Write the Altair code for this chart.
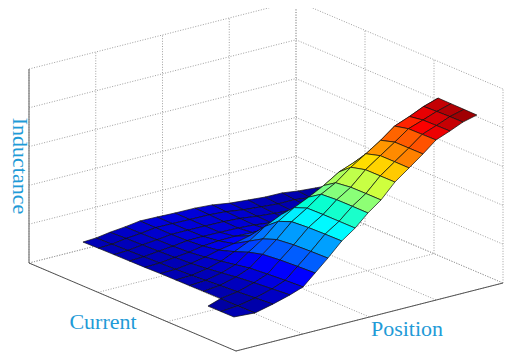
import altair as alt

N = None
current = [.066, .138, .21, .282, .354, .426, .498, .562, .626, .706, .786, .866]
position_low = [.231, .151, .20, .252, .308, .364, .428, .495, .57, .634, .701, .769, .833, .896, .956, 1.02, 1.083, 1.143]
position_high = [.096, .175, .242, .306, .355, .40, .448, .50, .55, .598, .647, .699, .752, .804, .853, .905, .954, 1.006]
inductance = [
    [N, N, N, N, N, N, N, N, N, .055, .068, .081],
    [.085, .085, .084, .083, .082, .082, .081, .080, .079, .077, .075, .074],
    [.089, .088, .087, .086, .085, .084, .084, .086, .088, .090, .093, .096],
    [.100, .099, .097, .095, .094, .094, .098, .104, .110, .115, .118, .121],
    [.108, .106, .104, .102, .102, .108, .118, .128, .138, .142, .144, .145],
    [.119, .116, .113, .112, .116, .126, .150, .175, .192, .198, .200, .201],
    [.117, .115, .113, .113, .122, .140, .185, .225, .250, .258, .260, .261],
    [.114, .113, .112, .112, .124, .160, .240, .295, .322, .328, .330, .331],
    [.113, .112, .110, .110, .120, .175, .280, .345, .372, .376, .378, .380],
    [.107, .106, .105, .105, .115, .180, .300, .380, .425, .434, .438, .441],
    [.093, .093, .094, .095, .105, .180, .320, .420, .465, .480, .486, .491],
    [.085, .085, .086, .088, .100, .180, .330, .470, .525, .551, .558, .565],
    [.078, .078, .080, .083, .100, .190, .340, .500, .575, .604, .612, .619],
    [.077, .078, .079, .080, .105, .200, .350, .530, .625, .655, .664, .673],
    [.066, .068, .071, .075, .110, .220, .370, .560, .680, .706, .717, .728],
    [.059, .061, .064, .070, .120, .240, .400, .590, .710, .732, .744, .756],
    [.053, .056, .060, .080, .170, .280, .430, .630, .743, .758, .772, .785],
    [.047, .050, .060, .100, .220, .300, .450, .660, .767, .779, .791, .803],
]
current_ticks = [0, 1/3, 2/3, 1]
position_ticks = [0, .25, .5, .75, 1]
height_ticks = [0, .2, .4, .6, .8, 1]
jet_stops = [.05, .145, .24, .335, .43, .525, .62, .715, .81]
jet_colors = ["#00008f", "#0000ff", "#0080ff", "#00ffff", "#80ff80", "#ffff00", "#ff8000", "#ff0000", "#800000"]


def screen(u, v, z):
    # orthographic view of the unit box, in chart pixels
    return [21 + 207 * u + 267 * v, 255 + 88 * u - 68 * v - 194 * z]


def vertex(i, j):
    f = (current[i] - current[0]) / (current[-1] - current[0])
    v = position_low[j] + f * (position_high[j] - position_low[j])
    return screen(current[i], v, inductance[j][i])


def line(*pts):
    return {"type": "Feature", "properties": {},
            "geometry": {"type": "LineString", "coordinates": [screen(*p) for p in pts]}}


cells = []
for i in range(len(current) - 1):
    for j in range(len(position_high) - 2, -1, -1):
        if None in (inductance[j][i], inductance[j][i + 1], inductance[j + 1][i], inductance[j + 1][i + 1]):
            continue
        a, b, c, d = vertex(i, j), vertex(i, j + 1), vertex(i + 1, j + 1), vertex(i + 1, j)
        cells.append({"type": "Feature", "properties": {"z": inductance[j][i + 1]},
                      "geometry": {"type": "Polygon", "coordinates": [[a, b, c, d, a]]}})

grid = []
for h in height_ticks:
    grid.append(line((0, 0, h), (0, 1, h)))
    grid.append(line((0, 1, h), (1, 1, h)))
for t in position_ticks:
    grid.append(line((0, t, 0), (0, t, 1)))
    grid.append(line((0, t, 0), (1, t, 0)))
for t in current_ticks:
    grid.append(line((t, 1, 0), (t, 1, 1)))
    grid.append(line((t, 0, 0), (t, 1, 0)))

axes_lines = [line((0, 0, 0), (1, 0, 0)), line((1, 0, 0), (1, 1.0, 0))]
wall_edge = [line((0, 0, 0), (0, 0, 1))]

proj = alt.Projection(type="identity", scale=1, translate=[0, 0])


def geo(feats):
    return alt.Chart(alt.Data(values=feats, format=alt.DataFormat(type="json")))


grid_layer = geo(grid).mark_geoshape(filled=False, stroke="#a0a0a0", strokeWidth=1, strokeDash=[1, 1.6])
wall_layer = geo(wall_edge).mark_geoshape(filled=False, stroke="#777777", strokeWidth=1.2)
axes_layer = geo(axes_lines).mark_geoshape(filled=False, stroke="#555555", strokeWidth=1)
surface = geo(cells).mark_geoshape(stroke="#101010", strokeWidth=0.7).encode(
    color=alt.Color("properties.z:Q", scale=alt.Scale(domain=jet_stops, range=jet_colors, clamp=True), legend=None)
)


def label(text, x, y, angle=0, align="center"):
    return alt.Chart(alt.Data(values=[{"t": text}])).mark_text(
        font="Liberation Serif", fontSize=22, color="#1f9bd7", angle=angle, align=align, baseline="alphabetic"
    ).encode(text="t:N", x=alt.value(x), y=alt.value(y))


chart = alt.layer(
    grid_layer, wall_layer, axes_layer, surface,
    label("Current", 95, 321), label("Position", 399, 328), label("Inductance", 5, 158, angle=90),
    projection=proj,
).properties(width=496, height=345, padding=0, autosize=alt.AutoSizeParams(type="none")).configure_view(stroke=None)

chart.save("out.html", embed_options={"renderer": "svg", "actions": False})
